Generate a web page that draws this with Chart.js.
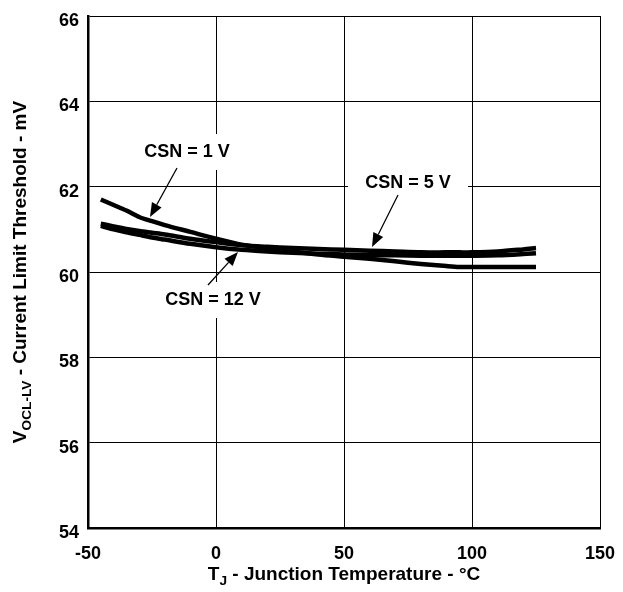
<!DOCTYPE html>
<html>
<head>
<meta charset="utf-8">
<script src="https://cdn.jsdelivr.net/npm/chart.js@4.4.0/dist/chart.umd.min.js"></script>
<style>
  html, body { margin: 0; padding: 0; background: #fff; }
  #wrap { width: 623px; height: 592px; }
</style>
</head>
<body>
<div id="wrap"><canvas id="grafico"></canvas></div>
<script>
// Datos
const temperaturas = [-45, -40, -35, -30, -25, -20, -10, 0, 10, 20, 30, 40, 50, 60, 70, 80, 90, 95, 100, 110, 120, 125];
const csn1V  = [61.70, 61.57, 61.44, 61.29, 61.19, 61.10, 60.94, 60.78, 60.64, 60.56, 60.48, 60.41, 60.36, 60.31, 60.25, 60.19, 60.14, 60.12, 60.12, 60.12, 60.12, 60.12];
const csn5V  = [61.13, 61.07, 61.01, 60.96, 60.92, 60.88, 60.78, 60.70, 60.63, 60.59, 60.56, 60.54, 60.52, 60.50, 60.48, 60.46, 60.46, 60.46, 60.46, 60.48, 60.53, 60.56];
const csn12V = [61.08, 61.00, 60.93, 60.87, 60.81, 60.76, 60.66, 60.58, 60.52, 60.48, 60.45, 60.43, 60.41, 60.40, 60.39, 60.38, 60.38, 60.38, 60.38, 60.39, 60.42, 60.44];
const xTicks = [-50, 0, 50, 100, 150];
const yTicks = [54, 56, 58, 60, 62, 64, 66];

const fuente = '"Liberation Sans", Arial, sans-serif';

function puntos(valores) {
    return temperaturas.map(function (t, i) { return { x: t, y: valores[i] }; });
}

function serie(label, valores) {
    return {
        label: label,
        data: puntos(valores),
        borderColor: '#000',
        borderWidth: 4.5,
        pointRadius: 0,
        tension: 0.3,
        fill: false
    };
}

// Texto con subíndice: partes [[texto, esSub], ...]
function textoPartes(ctx, partes, cx, cy, size) {
    let total = 0;
    partes.forEach(function (p) {
        ctx.font = 'bold ' + (p[1] ? size * 0.72 : size) + 'px ' + fuente;
        total += ctx.measureText(p[0]).width;
    });
    let x = cx - total / 2;
    ctx.textAlign = 'left';
    ctx.textBaseline = 'middle';
    partes.forEach(function (p) {
        ctx.font = 'bold ' + (p[1] ? size * 0.72 : size) + 'px ' + fuente;
        ctx.fillText(p[0], x, p[1] ? cy + size * 0.32 : cy);
        x += ctx.measureText(p[0]).width;
    });
}

function flecha(ctx, x1, y1, x2, y2) {
    const ang = Math.atan2(y2 - y1, x2 - x1);
    const largo = 14, ancho = 5.5;
    const bx = x2 - largo * Math.cos(ang), by = y2 - largo * Math.sin(ang);
    ctx.strokeStyle = '#000';
    ctx.lineWidth = 1.3;
    ctx.beginPath();
    ctx.moveTo(x1, y1);
    ctx.lineTo(bx, by);
    ctx.stroke();
    ctx.fillStyle = '#000';
    ctx.beginPath();
    ctx.moveTo(x2, y2);
    ctx.lineTo(bx + ancho * Math.sin(ang), by - ancho * Math.cos(ang));
    ctx.lineTo(bx - ancho * Math.sin(ang), by + ancho * Math.cos(ang));
    ctx.closePath();
    ctx.fill();
}

function etiqueta(ctx, texto, cx, cy, w, h) {
    ctx.fillStyle = '#fff';
    ctx.fillRect(cx - w / 2, cy - h / 2, w, h);
    ctx.fillStyle = '#000';
    ctx.font = 'bold 18px ' + fuente;
    ctx.textAlign = 'center';
    ctx.textBaseline = 'middle';
    ctx.fillText(texto, cx, cy);
}

const anotaciones = {
    id: 'anotaciones',
    beforeDatasetsDraw: function (chart) {
        const ctx = chart.ctx;
        ctx.save();
        etiqueta(ctx, 'CSN = 1 V', 187, 152, 110, 36);
        etiqueta(ctx, 'CSN = 5 V', 408, 183, 120, 34);
        etiqueta(ctx, 'CSN = 12 V', 213, 300, 126, 36);
        ctx.restore();
    },
    afterDatasetsDraw: function (chart) {
        const ctx = chart.ctx;
        ctx.save();
        flecha(ctx, 177, 168, 150, 217);
        flecha(ctx, 398, 195, 372, 247);
        flecha(ctx, 208, 285, 238, 252);
        ctx.restore();
    },
    afterDraw: function (chart) {
        const ctx = chart.ctx;
        const area = chart.chartArea;
        ctx.save();
        ctx.fillStyle = '#000';
        textoPartes(ctx, [['T', false], ['J', true], [' - Junction Temperature - °C', false]],
            (area.left + area.right) / 2, 575, 19);
        ctx.translate(21, (area.top + area.bottom) / 2);
        ctx.rotate(-Math.PI / 2);
        textoPartes(ctx, [['V', false], ['OCL-LV', true], [' - Current Limit Threshold - mV', false]], 0, 0, 19);
        ctx.restore();
    }
};

new Chart(document.getElementById('grafico'), {
    type: 'line',
    data: {
        datasets: [
            serie('CSN = 1 V', csn1V),
            serie('CSN = 5 V', csn5V),
            serie('CSN = 12 V', csn12V)
        ]
    },
    options: {
        responsive: true,
        maintainAspectRatio: false,
        animation: false,
        layout: { padding: { top: 16, right: 23, left: 0, bottom: 0 } },
        plugins: {
            legend: { display: false },
            tooltip: { enabled: false }
        },
        scales: {
            x: {
                type: 'linear',
                min: -50,
                max: 150,
                afterBuildTicks: function (s) { s.ticks = xTicks.map(function (v) { return { value: v }; }); },
                afterFit: function (s) { s.height = 64; s.paddingLeft = 0; s.paddingRight = 0; },
                grid: { color: '#000', lineWidth: 1, drawTicks: false },
                border: { color: '#000', width: 2.5 },
                ticks: { color: '#000', padding: 15, font: { family: fuente, size: 18, weight: 'bold' } }
            },
            y: {
                min: 54,
                max: 66,
                afterBuildTicks: function (s) { s.ticks = yTicks.map(function (v) { return { value: v }; }); },
                afterFit: function (s) { s.width = 88; s.paddingTop = 0; s.paddingBottom = 0; },
                grid: { color: '#000', lineWidth: 1, drawTicks: false },
                border: { color: '#000', width: 2.5 },
                ticks: { color: '#000', padding: 9, labelOffset: 5, font: { family: fuente, size: 18, weight: 'bold' } }
            }
        }
    },
    plugins: [anotaciones]
});
</script>
</body>
</html>
